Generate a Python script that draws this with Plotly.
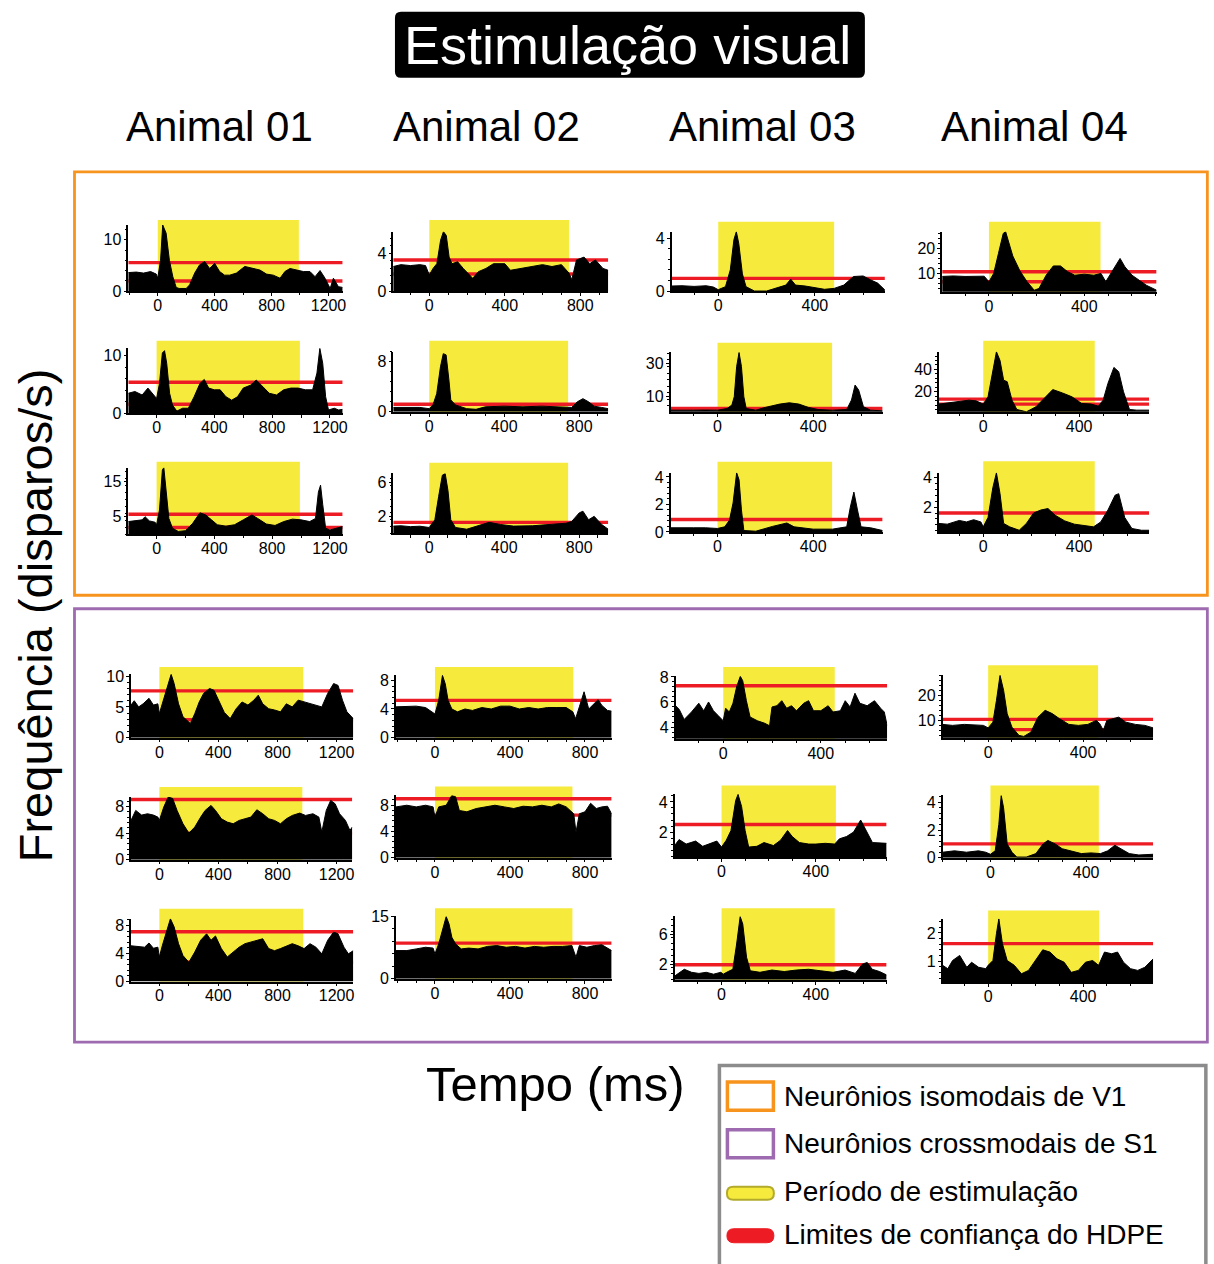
import plotly.graph_objects as go

W, H = 1214, 1264
FONT = "Liberation Sans, Arial, Helvetica, sans-serif"
RED = "#ED1C24"
YELLOW = "#F6EB3C"
ORANGE = "#F7941E"
PURPLE = "#9E6BB0"

# ---------------- firing-rate histograms (time in ms, rate in spikes/s) ----------------
# V1 (isomodal) neurons
t_v1_a1_r1 = [-207, -150, -100, -50, -10, 0, 20, 35, 59, 82, 106, 130, 150, 200, 224, 260, 294, 330, 365, 400, 435, 470, 506, 553, 612, 670, 718, 765, 812, 860, 894, 930, 976, 1024, 1070, 1106, 1141, 1176, 1212, 1235, 1270, 1300]
fr_v1_a1_r1 = [3.6, 3.7, 3.5, 3.8, 3.3, 2.5, 6.0, 12.9, 11.3, 6.0, 2.8, 0.7, 0.5, 0.5, 1.2, 3.5, 5.1, 5.75, 4.4, 5.4, 3.8, 3.1, 3.1, 3.5, 4.8, 4.4, 4.1, 3.3, 3.1, 2.5, 3.8, 4.4, 4.1, 3.8, 3.8, 2.8, 4.0, 2.5, 0.5, 2.5, 0.85, 0.7]
t_v1_a2_r1 = [-191, -150, -100, -50, -20, 0, 20, 40, 60, 75, 90, 105, 120, 150, 180, 210, 230, 260, 300, 340, 400, 430, 480, 540, 600, 650, 700, 740, 755, 780, 820, 850, 880, 920, 948]
fr_v1_a2_r1 = [2.6, 2.8, 2.7, 2.8, 2.7, 1.7, 2.4, 2.9, 5.4, 6.3, 5.9, 3.6, 2.9, 3.1, 2.4, 1.7, 1.35, 2.05, 2.4, 2.9, 2.9, 2.2, 2.4, 2.6, 2.8, 2.6, 2.8, 1.9, 1.2, 3.3, 3.6, 2.9, 3.3, 2.4, 2.2]
t_v1_a3_r1 = [-193, -150, -100, -50, -20, 0, 30, 50, 65, 75, 85, 100, 115, 150, 200, 240, 280, 300, 320, 360, 400, 440, 480, 520, 560, 600, 630, 660, 690]
fr_v1_a3_r1 = [0.38, 0.4, 0.35, 0.4, 0.3, 0.1, 0.33, 1.6, 3.9, 4.5, 3.6, 1.3, 0.33, 0.0, 0.0, 0.2, 0.45, 0.9, 0.45, 0.38, 0.28, 0.13, 0.2, 0.45, 1.1, 1.14, 0.85, 0.6, 0.08]
t_v1_a4_r1 = [-196, -150, -100, -50, -20, 0, 20, 40, 60, 70, 85, 100, 130, 160, 190, 210, 240, 270, 300, 330, 360, 400, 440, 470, 490, 520, 550, 570, 600, 630, 660, 703]
fr_v1_a4_r1 = [8.8, 9.0, 8.8, 9.0, 8.9, 6.7, 10, 18, 26, 26.7, 22.3, 17, 11, 6.7, 3.3, 4, 9.3, 13, 13, 10.7, 9.3, 9.7, 9.3, 10, 6.7, 11.3, 16, 12.7, 9.3, 7.3, 5.3, 3.3]
t_v1_a1_r2 = [-196, -150, -100, -60, -20, 0, 20, 40, 55, 70, 90, 110, 140, 180, 220, 260, 300, 330, 360, 400, 440, 480, 520, 560, 600, 650, 690, 730, 780, 830, 880, 930, 980, 1030, 1080, 1110, 1130, 1150, 1170, 1190, 1230, 1260, 1288]
fr_v1_a1_r2 = [3.5, 3.8, 3.2, 4.4, 3.2, 2.6, 5.2, 10.5, 10.9, 8.7, 3.5, 1.45, 0.4, 0.9, 0.9, 2.9, 5.2, 5.9, 4.4, 4.1, 4.1, 2.9, 2.3, 2.9, 4.4, 4.9, 5.8, 4.7, 3.5, 3.2, 4.1, 4.4, 4.4, 4.1, 4.1, 7.0, 11.3, 8.7, 2.9, 0.6, 0.9, 0.6, 0.7]
t_v1_a2_r2 = [-192, -150, -100, -50, 0, 20, 40, 60, 75, 90, 105, 115, 140, 200, 250, 300, 400, 500, 600, 700, 760, 790, 820, 850, 880, 920, 955]
fr_v1_a2_r2 = [0.7, 0.7, 0.75, 0.7, 0.5, 1.1, 2.9, 7.2, 9.3, 9.1, 5.1, 1.9, 1.1, 0.5, 0.4, 0.8, 0.9, 0.8, 0.9, 0.8, 0.7, 1.6, 2.1, 1.6, 0.9, 0.7, 0.5]
t_v1_a3_r2 = [-196, -150, -100, -50, 0, 40, 60, 70, 80, 90, 100, 110, 120, 160, 200, 260, 300, 340, 380, 420, 480, 540, 560, 575, 590, 610, 640, 690]
fr_v1_a3_r2 = [1.4, 1.6, 1.4, 1.5, 1.4, 2.4, 4.5, 9.6, 28, 36.5, 28, 9.6, 2.4, 1.4, 3.1, 5.1, 5.9, 5.1, 3.1, 1.8, 1.4, 1.8, 7.6, 16.7, 13.7, 3.5, 1.4, 1.0]
t_v1_a4_r2 = [-185, -150, -100, -60, -30, 0, 20, 40, 55, 70, 85, 100, 120, 140, 180, 220, 260, 290, 330, 370, 410, 450, 480, 500, 520, 545, 565, 585, 610, 640, 692]
fr_v1_a4_r2 = [9, 10.1, 11, 12.5, 11.9, 9, 15.5, 39.4, 55.8, 48, 30.4, 29, 12.5, 4.2, 2.1, 6.6, 15.5, 22, 19, 15.5, 9.6, 9, 7.2, 12.5, 27.5, 41.8, 38, 20, 4.2, 3.6, 3.6]
t_v1_a1_r3 = [-196, -100, -80, -50, -10, 0, 20, 40, 50, 65, 85, 110, 150, 200, 250, 300, 340, 380, 420, 480, 540, 600, 660, 700, 760, 820, 880, 940, 1000, 1060, 1100, 1120, 1135, 1150, 1170, 1200, 1240, 1288]
fr_v1_a1_r3 = [3.6, 4.1, 5.0, 3.8, 3.4, 2.7, 6.9, 18.3, 19.0, 13.1, 4.5, 1.7, 0.8, 1.0, 3.1, 6.1, 5.5, 4.1, 2.7, 2.3, 2.7, 4.1, 5.5, 4.5, 2.9, 2.5, 3.6, 4.3, 4.1, 3.6, 4.5, 12, 14, 8.5, 1.7, 1.2, 1.7, 2.2]
t_v1_a2_r3 = [-192, -150, -100, -50, 0, 30, 50, 70, 85, 100, 115, 140, 200, 260, 320, 380, 450, 550, 650, 730, 760, 800, 820, 850, 880, 920, 955]
fr_v1_a2_r3 = [0.86, 0.9, 0.8, 0.85, 0.7, 1.6, 4.3, 6.8, 7.0, 5.0, 1.6, 0.7, 0.5, 0.9, 1.3, 1.05, 0.86, 0.9, 1.05, 1.2, 1.4, 2.4, 2.6, 1.6, 2.0, 1.05, 0.5]
t_v1_a3_r3 = [-196, -150, -100, -50, 0, 30, 50, 65, 80, 90, 100, 110, 160, 230, 260, 290, 320, 360, 400, 480, 540, 555, 570, 585, 600, 640, 690]
fr_v1_a3_r3 = [0.3, 0.32, 0.3, 0.3, 0.25, 0.37, 0.85, 2.1, 4.3, 3.8, 1.6, 0.1, 0.05, 0.4, 0.5, 0.65, 0.37, 0.3, 0.2, 0.2, 0.37, 1.8, 2.9, 1.6, 0.37, 0.3, 0.1]
t_v1_a4_r3 = [-185, -150, -100, -70, -40, -10, 0, 20, 40, 55, 70, 85, 110, 150, 180, 210, 240, 270, 300, 340, 380, 420, 460, 490, 520, 550, 565, 590, 620, 660, 692]
fr_v1_a4_r3 = [0.9, 0.85, 1.1, 1.0, 1.15, 1.0, 0.67, 1.3, 3.3, 4.3, 2.9, 0.9, 0.67, 0.44, 0.9, 1.6, 1.8, 1.9, 1.45, 1.07, 0.85, 0.78, 0.67, 1.0, 1.8, 2.8, 2.9, 1.3, 0.56, 0.44, 0.44]

# S1 (crossmodal) neurons
t_s1_a1_r1 = [-192, -170, -140, -110, -70, -40, -10, 0, 20, 40, 60, 80, 100, 130, 160, 190, 210, 240, 270, 300, 340, 370, 400, 440, 480, 520, 560, 600, 640, 670, 700, 740, 780, 820, 860, 900, 940, 980, 1020, 1060, 1100, 1140, 1180, 1210, 1240, 1270, 1313]
fr_s1_a1_r1 = [5.3, 6.0, 5.0, 5.5, 6.4, 5.3, 5.5, 3.9, 5.5, 7.1, 8.8, 10.3, 8.8, 5.5, 3.4, 2.8, 2.3, 3.9, 5.8, 7.2, 8.0, 7.7, 6.1, 4.1, 3.1, 4.7, 5.8, 5.3, 6.1, 6.9, 5.5, 4.7, 4.5, 4.2, 5.5, 5.0, 6.1, 5.8, 5.5, 5.3, 5.0, 7.2, 8.8, 8.5, 6.1, 4.2, 3.1]
t_s1_a2_r1 = [-208, -150, -100, -50, 0, 20, 40, 55, 70, 90, 120, 160, 200, 250, 300, 350, 400, 450, 500, 550, 600, 650, 700, 735, 750, 770, 795, 820, 850, 870, 890, 920, 942]
fr_s1_a2_r1 = [4.3, 4.3, 4.4, 4.2, 3.3, 5.2, 8.7, 7.5, 5.2, 4.0, 3.6, 4.0, 3.8, 4.2, 4.0, 4.4, 4.4, 4.0, 4.2, 4.0, 4.2, 4.2, 4.2, 3.6, 2.65, 4.3, 6.4, 4.0, 4.7, 5.3, 4.5, 3.8, 3.7]
t_s1_a3_r1 = [-195, -180, -160, -130, -100, -80, -60, -40, -20, 0, 10, 25, 40, 55, 70, 80, 95, 110, 140, 170, 190, 200, 220, 240, 260, 280, 300, 330, 350, 370, 400, 430, 450, 480, 500, 520, 540, 560, 590, 620, 645, 660, 672]
fr_s1_a3_r1 = [5.7, 5.4, 4.6, 5.2, 5.9, 5.3, 6.0, 5.3, 4.9, 4.5, 5.5, 5.2, 5.9, 7.2, 8.05, 7.7, 6.1, 4.8, 4.5, 4.3, 4.1, 5.6, 5.7, 6.1, 5.5, 5.7, 5.3, 5.9, 6.1, 5.3, 5.3, 5.7, 5.2, 5.3, 6.1, 5.6, 6.7, 5.9, 5.7, 6.1, 5.5, 5.2, 4.1]
t_s1_a4_r1 = [-192, -150, -100, -60, -20, 0, 20, 35, 50, 65, 80, 100, 130, 150, 180, 210, 240, 270, 300, 340, 380, 420, 455, 470, 485, 500, 530, 550, 580, 620, 660, 695]
fr_s1_a4_r1 = [8.4, 8.0, 8.4, 8.3, 8.0, 7.0, 9.3, 18, 28, 22, 12.7, 7.3, 4.0, 3.6, 5.3, 11.3, 14, 12.7, 10.7, 8.4, 8.0, 8.4, 10, 8.7, 6.0, 10, 10.7, 11.3, 9.3, 8.4, 8.0, 7.0]
t_s1_a1_r2 = [-192, -160, -120, -80, -40, -10, 0, 30, 60, 90, 120, 160, 200, 240, 280, 310, 350, 380, 420, 460, 500, 540, 580, 620, 660, 700, 740, 780, 820, 860, 900, 950, 990, 1040, 1080, 1100, 1130, 1160, 1190, 1220, 1260, 1290, 1306]
fr_s1_a1_r2 = [5.9, 7.4, 6.7, 6.9, 6.7, 6.4, 5.9, 7.9, 9.4, 9.2, 7.4, 5.4, 4.0, 4.9, 6.4, 7.4, 8.15, 7.4, 6.15, 5.65, 5.4, 5.9, 6.15, 6.4, 7.5, 6.9, 6.15, 5.9, 5.4, 6.15, 6.65, 7.0, 6.65, 6.9, 6.4, 4.15, 7.4, 8.9, 8.4, 6.9, 5.9, 4.4, 4.9]
t_s1_a2_r2 = [-208, -150, -100, -50, -10, 0, 20, 60, 90, 110, 130, 170, 220, 270, 320, 370, 420, 470, 520, 570, 620, 660, 700, 740, 752, 770, 800, 830, 860, 890, 920, 942]
fr_s1_a2_r2 = [7.75, 8.0, 7.75, 8.0, 7.75, 6.2, 7.75, 8.0, 9.5, 9.3, 7.2, 7.0, 7.5, 7.75, 8.0, 7.75, 7.5, 7.85, 7.75, 8.0, 7.75, 8.2, 7.75, 6.7, 3.9, 6.7, 7.0, 8.3, 7.5, 7.75, 7.85, 6.7]
t_s1_a3_r2 = [-199, -180, -150, -110, -80, -50, -20, 0, 20, 40, 60, 70, 85, 100, 115, 150, 180, 220, 250, 280, 300, 330, 370, 400, 440, 480, 500, 530, 560, 590, 610, 640, 700]
fr_s1_a3_r2 = [1.1, 1.5, 1.2, 1.4, 1.05, 1.2, 1.4, 1.0, 1.45, 2.1, 4.1, 4.5, 3.7, 2.1, 1.0, 1.05, 1.3, 1.1, 1.45, 2.1, 1.7, 1.3, 1.2, 1.2, 1.25, 1.2, 1.55, 1.7, 2.0, 2.8, 2.2, 1.3, 1.25]
t_s1_a4_r2 = [-200, -150, -100, -50, -20, 0, 20, 35, 45, 55, 70, 90, 110, 150, 190, 220, 240, 270, 300, 340, 380, 420, 460, 490, 520, 550, 580, 620, 650, 680]
fr_s1_a4_r2 = [0.4, 0.5, 0.4, 0.5, 0.4, 0.25, 0.5, 2.4, 4.5, 3.6, 1.0, 0.4, 0.05, 0.05, 0.3, 1.0, 1.25, 1.0, 0.65, 0.5, 0.3, 0.35, 0.3, 0.5, 0.9, 0.6, 0.3, 0.2, 0.25, 0.25]
t_s1_a1_r3 = [-192, -150, -100, -70, -40, -10, 0, 20, 50, 75, 100, 130, 160, 200, 240, 280, 320, 350, 380, 420, 460, 500, 540, 580, 620, 660, 700, 740, 780, 820, 860, 900, 940, 980, 1020, 1060, 1100, 1140, 1180, 1210, 1250, 1280, 1313]
fr_s1_a1_r3 = [5.1, 5.0, 4.9, 5.5, 4.75, 4.9, 3.5, 5.1, 7.3, 8.95, 7.8, 5.4, 3.7, 2.75, 4.2, 5.9, 6.8, 5.9, 6.5, 4.7, 3.5, 4.2, 4.9, 5.4, 5.6, 5.9, 6.1, 4.7, 4.4, 4.7, 5.1, 5.4, 5.1, 4.7, 5.4, 4.9, 3.95, 5.9, 7.05, 6.8, 4.9, 3.95, 4.4]
t_s1_a2_r3 = [-208, -150, -100, -50, -10, 0, 20, 40, 60, 75, 90, 110, 140, 180, 230, 280, 330, 380, 430, 480, 530, 580, 630, 680, 730, 752, 770, 810, 850, 890, 920, 942]
fr_s1_a2_r3 = [6.8, 6.8, 7.2, 7.6, 7.4, 6.0, 8.4, 11.6, 15.0, 13.2, 10.0, 8.4, 7.2, 7.4, 7.2, 7.8, 8.0, 7.6, 7.8, 7.4, 7.8, 7.6, 7.8, 7.8, 8.0, 5.2, 8.0, 7.6, 8.0, 8.2, 7.4, 6.8]
t_s1_a3_r3 = [-199, -158, -127, -96, -65, -34, -3, 7, 28, 48, 64, 79, 90, 106, 122, 163, 214, 266, 318, 369, 421, 473, 524, 567, 598, 618, 639, 670, 700]
fr_s1_a3_r3 = [0.5, 1.4, 1.0, 0.85, 1.0, 0.75, 1.0, 0.75, 1.1, 1.4, 4.75, 8.4, 7.4, 3.0, 1.2, 1.0, 1.3, 1.1, 1.3, 1.4, 1.2, 1.0, 1.3, 0.85, 2.1, 2.3, 1.4, 1.1, 0.65]
t_s1_a4_r3 = [-192, -170, -150, -120, -90, -70, -40, -10, 0, 20, 35, 45, 60, 80, 110, 140, 170, 200, 230, 260, 290, 320, 350, 380, 410, 440, 465, 490, 520, 545, 570, 600, 630, 660, 695]
fr_s1_a4_r3 = [0.85, 0.73, 1.02, 1.2, 0.78, 0.96, 0.78, 0.73, 0.85, 1.02, 1.98, 2.5, 1.62, 1.02, 0.85, 0.55, 0.67, 1.02, 1.4, 1.32, 1.08, 0.96, 0.6, 0.67, 0.96, 1.02, 0.85, 1.32, 1.26, 1.32, 0.96, 0.73, 0.67, 0.78, 1.08]

# HDPE confidence limits (spikes/s) per histogram
ci_v1 = [[5.55, 1.96], [3.3, 1.8], [0.96], [10.7, 6.7],
         [5.4, 1.6], [1.2], [2.4], [13.4, 9.0],
         [5.7, 1.9], [1.3], [0.9], [1.6]]
ci_s1 = [[7.6, 2.9], [5.2], [7.3], [10.4, 6.3],
         [9.05, 4.0], [9.0, 6.5], [2.5], [1.0],
         [7.1, 2.75], [8.6], [2.0], [1.62]]

# end of the stimulation period (ms)
stim_v1 = [992, 740, 480, 468, 992, 741, 479, 465, 992, 741, 479, 465]
stim_s1 = [975, 738, 457, 463, 968, 733, 485, 453, 975, 733, 480, 467]

# tick labels
yticks_v1 = [[0, 10], [0, 4], [0, 4], [10, 20],
             [0, 10], [0, 8], [10, 30], [20, 40],
             [5, 15], [2, 6], [0, 2, 4], [2, 4]]
yticks_s1 = [[0, 5, 10], [0, 4, 8], [4, 6, 8], [10, 20],
             [0, 4, 8], [0, 4, 8], [2, 4], [0, 2, 4],
             [0, 4, 8], [0, 15], [2, 6], [1, 2]]
xticks_by_animal = [[0, 400, 800, 1200], [0, 400, 800], [0, 400], [0, 400]]

animals = ["Animal 01", "Animal 02", "Animal 03", "Animal 04"]
legend_labels = ["Neurônios isomodais de V1", "Neurônios crossmodais de S1",
                 "Período de estimulação", "Limites de confiança do HDPE"]

# ---------------- placement of the small panels (px: left, right, bottom, top, stimulus-bar top) ----------------
box_v1 = [(128.3, 342.7, 291.0, 225.0, 220.0), (393.3, 608.3, 291.0, 231.7, 220.0),
          (671.7, 885.0, 291.0, 231.7, 221.7), (942.3, 1156.7, 291.7, 231.7, 221.7),
          (128.3, 342.7, 413.3, 348.3, 340.7), (393.3, 608.3, 411.7, 351.7, 340.7),
          (670.7, 882.7, 411.7, 351.7, 342.7), (939.0, 1149.3, 411.7, 351.7, 340.7),
          (128.3, 342.7, 534.0, 467.5, 461.7), (393.3, 608.3, 533.3, 473.3, 462.7),
          (670.7, 882.7, 531.7, 472.7, 461.7), (939.0, 1149.3, 531.7, 472.7, 461.0)]
box_s1 = [(131.0, 353.3, 737.3, 674.0, 666.7), (396.0, 611.7, 737.3, 675.0, 666.7),
          (675.7, 887.3, 738.3, 676.0, 666.7), (942.7, 1153.3, 737.3, 675.0, 665.0),
          (131.0, 352.3, 859.3, 796.7, 786.7), (396.0, 611.7, 857.3, 795.0, 786.0),
          (674.7, 886.7, 856.7, 793.3, 785.0), (942.7, 1153.3, 857.3, 795.0, 785.0),
          (131.0, 353.3, 981.0, 918.3, 908.3), (396.0, 611.7, 978.3, 916.0, 907.7),
          (674.7, 886.7, 979.3, 916.0, 907.7), (942.7, 1153.3, 981.7, 918.3, 910.0)]
yrange_v1 = [(0, 12.9), (0, 6.3), (0, 4.5), (2.7, 26.7),
             (0, 11.3), (0, 9.6), (0.4, 37), (2.1, 55.8),
             (0, 19), (0, 7), (0, 4.3), (0.33, 4.3)]
yrange_s1 = [(0, 10.3), (0, 8.7), (3.07, 8.05), (3.1, 28),
             (0, 9.4), (0, 9.5), (0.33, 4.55), (0, 4.5),
             (0, 8.95), (0, 15), (0, 8.4), (0.25, 2.5)]

series_v1 = [(t_v1_a1_r1, fr_v1_a1_r1), (t_v1_a2_r1, fr_v1_a2_r1), (t_v1_a3_r1, fr_v1_a3_r1), (t_v1_a4_r1, fr_v1_a4_r1),
             (t_v1_a1_r2, fr_v1_a1_r2), (t_v1_a2_r2, fr_v1_a2_r2), (t_v1_a3_r2, fr_v1_a3_r2), (t_v1_a4_r2, fr_v1_a4_r2),
             (t_v1_a1_r3, fr_v1_a1_r3), (t_v1_a2_r3, fr_v1_a2_r3), (t_v1_a3_r3, fr_v1_a3_r3), (t_v1_a4_r3, fr_v1_a4_r3)]
series_s1 = [(t_s1_a1_r1, fr_s1_a1_r1), (t_s1_a2_r1, fr_s1_a2_r1), (t_s1_a3_r1, fr_s1_a3_r1), (t_s1_a4_r1, fr_s1_a4_r1),
             (t_s1_a1_r2, fr_s1_a1_r2), (t_s1_a2_r2, fr_s1_a2_r2), (t_s1_a3_r2, fr_s1_a3_r2), (t_s1_a4_r2, fr_s1_a4_r2),
             (t_s1_a1_r3, fr_s1_a1_r3), (t_s1_a2_r3, fr_s1_a2_r3), (t_s1_a3_r3, fr_s1_a3_r3), (t_s1_a4_r3, fr_s1_a4_r3)]

# page placement: the figure sits slightly inset on the page, so positions are mapped
SX, SY, OY = 0.996, 0.9858, 8.2


def fx(x):
    return (x / SX) / W


def fy(y):
    return 1 - ((y - OY) / SY) / H


panels = []
for series, ci, stim, yt, box, yr in [(series_v1, ci_v1, stim_v1, yticks_v1, box_v1, yrange_v1),
                                      (series_s1, ci_s1, stim_s1, yticks_s1, box_s1, yrange_s1)]:
    for k in range(12):
        panels.append(dict(t=series[k][0], fr=series[k][1], ci=ci[k], stim=stim[k],
                           yt=yt[k], xt=xticks_by_animal[k % 4], box=box[k], yr=yr[k],
                           xminor=200 if k % 4 == 0 else 100))

fig = go.Figure()
layout = dict(width=W, height=H, margin=dict(l=0, r=0, t=0, b=0), autosize=False,
              paper_bgcolor="white", plot_bgcolor="rgba(0,0,0,0)", showlegend=False,
              font=dict(family=FONT, color="black"))
shapes = []
annotations = []

for i, p in enumerate(panels, start=1):
    xa = "x" if i == 1 else f"x{i}"
    ya = "y" if i == 1 else f"y{i}"
    left, right, bottom, top, ybar = p["box"]
    t, fr = p["t"], p["fr"]
    # confidence limits (drawn first so the histogram covers them)
    for level in p["ci"]:
        fig.add_trace(go.Scatter(x=[t[0], t[-1]], y=[level, level], mode="lines",
                                 line=dict(color=RED, width=3.4), xaxis=xa, yaxis=ya,
                                 hoverinfo="skip"))
    fig.add_trace(go.Scatter(x=t, y=fr, mode="lines", fill="tozeroy", fillcolor="black",
                             line=dict(color="black", width=1), xaxis=xa, yaxis=ya,
                             hoverinfo="skip"))
    ystep = (p["yt"][1] - p["yt"][0]) / 5.0
    layout["xaxis" if i == 1 else f"xaxis{i}"] = dict(
        domain=[fx(left), fx(right)], anchor=ya, range=[t[0], t[-1]],
        showline=True, linecolor="black", linewidth=1.5, showgrid=False, zeroline=False,
        ticks="outside", ticklen=3, tickwidth=1, tickcolor="black",
        tickmode="array", tickvals=p["xt"], ticktext=[str(v) for v in p["xt"]],
        tickfont=dict(family=FONT, size=16, color="black"), ticklabelstandoff=-4,
        minor=dict(ticks="outside", ticklen=2.5, tickcolor="black", tick0=0, dtick=p["xminor"]),
        fixedrange=True)
    layout["yaxis" if i == 1 else f"yaxis{i}"] = dict(
        domain=[fy(bottom), fy(top)], anchor=xa, range=list(p["yr"]),
        showline=True, linecolor="black", linewidth=1.5, showgrid=False, zeroline=False,
        ticks="outside", ticklen=3, tickwidth=1, tickcolor="black",
        tickmode="array", tickvals=p["yt"], ticktext=[str(v) for v in p["yt"]],
        tickfont=dict(family=FONT, size=16, color="black"), ticklabelstandoff=-1,
        minor=dict(ticks="outside", ticklen=2, tickcolor="black", tick0=0, dtick=ystep),
        fixedrange=True)
    # stimulation period
    shapes.append(dict(type="rect", xref=xa, yref=f"{ya} domain", x0=0, x1=p["stim"],
                       y0=0, y1=(bottom - ybar) / (bottom - top),
                       fillcolor=YELLOW, line=dict(width=0), layer="below"))


def P(x, y):
    return f"{fx(x):.5f},{fy(y):.5f}"


def rounded(x0, y0, x1, y1, r):
    return (f"M{P(x0 + r, y0)} L{P(x1 - r, y0)} Q{P(x1, y0)} {P(x1, y0 + r)} "
            f"L{P(x1, y1 - r)} Q{P(x1, y1)} {P(x1 - r, y1)} L{P(x0 + r, y1)} "
            f"Q{P(x0, y1)} {P(x0, y1 - r)} L{P(x0, y0 + r)} Q{P(x0, y0)} {P(x0 + r, y0)} Z")


def prect(x0, y0, x1, y1, **kw):
    d = dict(type="rect", xref="paper", yref="paper", x0=fx(x0), x1=fx(x1),
             y0=fy(y1), y1=fy(y0))
    d.update(kw)
    return d


# group frames
shapes.append(prect(74.5, 172, 1207.5, 595, line=dict(color=ORANGE, width=2.8), fillcolor="rgba(0,0,0,0)"))
shapes.append(prect(74.5, 608.5, 1207.5, 1041.5, line=dict(color=PURPLE, width=2.8), fillcolor="rgba(0,0,0,0)"))

# title box
shapes.append(dict(type="path", xref="paper", yref="paper", path=rounded(395, 12, 865, 78, 6),
                   fillcolor="black", line=dict(width=0)))
annotations.append(dict(text="Estimulação visual", x=fx(628), y=fy(45), xref="paper", yref="paper",
                        showarrow=False, xanchor="center", yanchor="middle",
                        font=dict(family=FONT, size=54, color="white")))

# column headers
for name, cx in zip(animals, [220, 487, 763, 1035]):
    annotations.append(dict(text=name, x=fx(cx), y=fy(127), xref="paper", yref="paper",
                            showarrow=False, xanchor="center", yanchor="middle",
                            font=dict(family=FONT, size=42, color="black")))

# axis titles
annotations.append(dict(text="Frequência (disparos/s)", x=fx(35), y=fy(615), xref="paper", yref="paper",
                        showarrow=False, xanchor="center", yanchor="middle", textangle=-90,
                        font=dict(family=FONT, size=47, color="black")))
annotations.append(dict(text="Tempo (ms)", x=fx(556), y=fy(1083), xref="paper", yref="paper",
                        showarrow=False, xanchor="center", yanchor="middle",
                        font=dict(family=FONT, size=49, color="black")))

# legend
shapes.append(prect(719.5, 1065, 1206, 1280, line=dict(color="#8C8C8C", width=3.5), fillcolor="white"))
shapes.append(prect(727.5, 1081.5, 773.5, 1109.5, line=dict(color=ORANGE, width=3.5), fillcolor="white"))
shapes.append(prect(727.5, 1129, 773.5, 1157, line=dict(color=PURPLE, width=3.5), fillcolor="white"))
shapes.append(dict(type="path", xref="paper", yref="paper", path=rounded(727, 1186, 774, 1199, 6.5),
                   fillcolor=YELLOW, line=dict(color="#B3AA2C", width=2)))
shapes.append(dict(type="path", xref="paper", yref="paper", path=rounded(727, 1228, 774, 1242, 7),
                   fillcolor=RED, line=dict(color=RED, width=1)))
for label, cy in zip(legend_labels, [1096, 1143, 1191, 1234]):
    annotations.append(dict(text=label, x=fx(782), y=fy(cy), xref="paper", yref="paper",
                            showarrow=False, xanchor="left", yanchor="middle",
                            font=dict(family=FONT, size=28, color="black")))

layout["shapes"] = shapes
layout["annotations"] = annotations
fig.update_layout(**layout)
fig.write_html("out.html")
